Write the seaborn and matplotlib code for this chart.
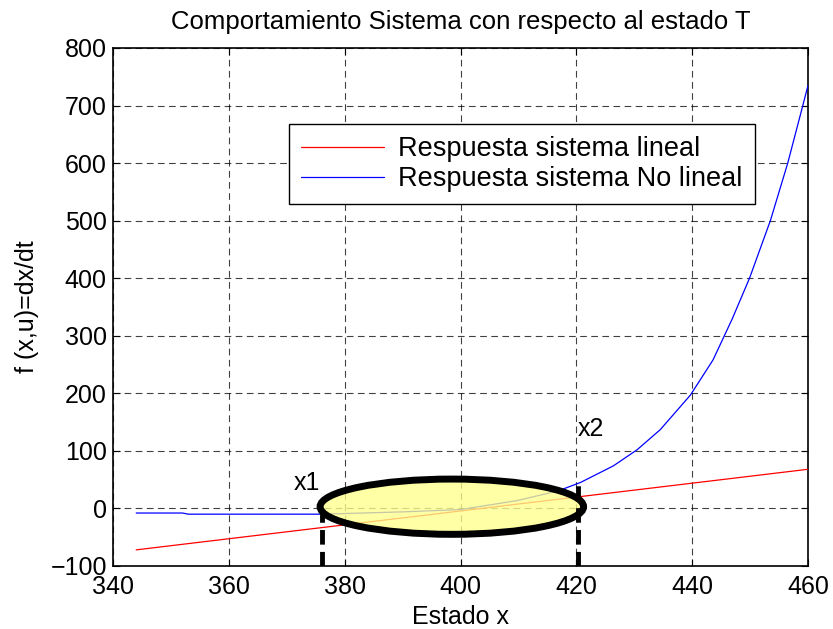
import numpy as np
import pandas as pd
import matplotlib
matplotlib.use("Agg")
import matplotlib.pyplot as plt
from matplotlib.patches import Ellipse
import seaborn as sns

# Data
lin_x = [344, 400, 460]
lin_y = [-72, -4.4, 68]

nolin_x = [344, 352, 353, 376, 390, 400, 410, 417, 420.7, 426.4, 430.5, 434.5,
           439.7, 443.6, 446.9, 449.9, 453.5, 456.5, 459.1, 460]
nolin_y = [-8, -8, -10, -10, -6, -2, 14, 31, 45, 74, 102, 137,
           197, 258, 329, 400, 500, 600, 700, 735]

# operating region (ellipse) and the two bounds x1, x2
region_center = (398.5, 3)
region_size = (45.5, 96)
bound_x = [376, 420.3]
bound_top = [-10, 50]
bound_labels = ["x1", "x2"]
bound_label_pos = [(373.5, 44), (422.5, 138)]

sns.set_style("ticks")
plt.rcParams["font.family"] = ["Liberation Sans", "DejaVu Sans"]
plt.rcParams["text.color"] = "black"
plt.rcParams["axes.labelcolor"] = "black"
FS = 18

df = pd.concat([
    pd.DataFrame({"x": lin_x, "y": lin_y, "serie": "Respuesta sistema lineal"}),
    pd.DataFrame({"x": nolin_x, "y": nolin_y, "serie": "Respuesta sistema No lineal"}),
])

fig = plt.figure(figsize=(8.33, 6.29), dpi=100)
ax = fig.add_axes([0.1357, 0.1002, 0.8343, 0.8235])

sns.lineplot(data=df, x="x", y="y", hue="serie", sort=False,
             palette={"Respuesta sistema lineal": "#ff0000",
                      "Respuesta sistema No lineal": "#0000ff"},
             linewidth=0.9, ax=ax, zorder=3)

ell = Ellipse(region_center, region_size[0], region_size[1],
              facecolor=(1.0, 1.0, 0.55, 0.78), edgecolor="black",
              linewidth=5, zorder=4)
ax.add_patch(ell)

for bx, bt in zip(bound_x, bound_top):
    ax.plot([bx, bx], [-100, bt], color="black", linewidth=3.5,
            linestyle=(0, (3, 1.5)), zorder=5)
for lab, (tx, ty) in zip(bound_labels, bound_label_pos):
    ax.text(tx, ty, lab, fontsize=FS, ha="center", va="center", zorder=6)

ax.set_xlim(340, 460)
ax.set_ylim(-100, 800)
ax.set_xticks(np.arange(340, 461, 20))
ax.set_yticks(np.arange(-100, 801, 100))
ax.grid(True, color="black", linestyle=(0, (6, 4)), linewidth=0.8, alpha=0.75)
ax.tick_params(direction="in", top=True, right=True, length=5,
               labelsize=FS, colors="black")
ax.tick_params(axis="x", pad=6.5)
ax.tick_params(axis="y", pad=4.5)
for s in ax.spines.values():
    s.set_color("black")
    s.set_linewidth(1.2)

ax.set_title("Comportamiento Sistema con respecto al estado T", fontsize=18.5,
             pad=14, color="black")
ax.set_xlabel("Estado x", fontsize=FS, labelpad=4)
ax.set_ylabel("f (x,u)=dx/dt", fontsize=FS, labelpad=8)

leg = ax.legend(loc="upper left", bbox_to_anchor=(0.2532, 0.8533),
                borderaxespad=0, fontsize=19.5,
                frameon=True, fancybox=False, framealpha=1, edgecolor="black",
                handlelength=3.06, handletextpad=0.52, borderpad=0.45,
                labelspacing=0.15, title=None)
leg.get_frame().set_linewidth(1.0)

fig.savefig("out.png", dpi=100)
